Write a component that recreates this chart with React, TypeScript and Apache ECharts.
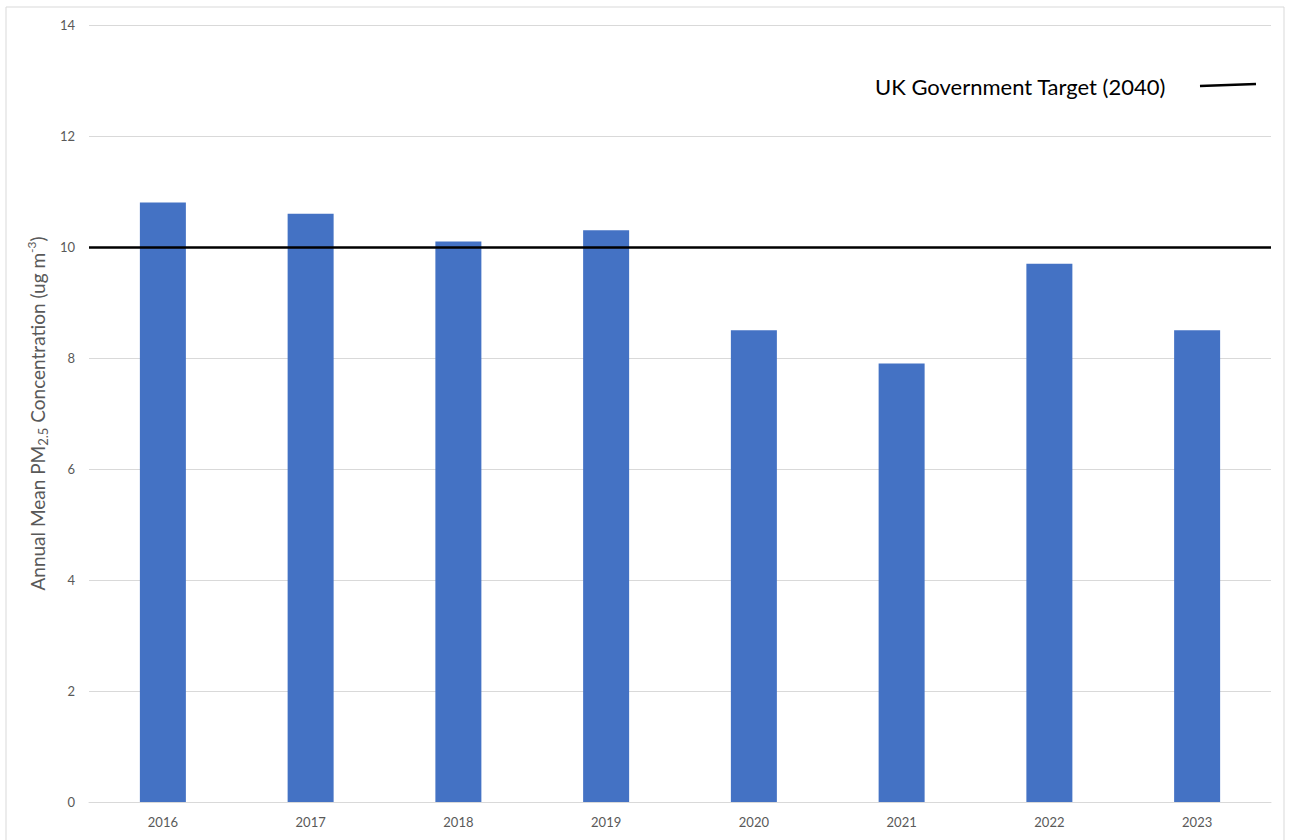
import React, { useEffect, useRef } from "react";
import * as echarts from "echarts";

const years = ["2016", "2017", "2018", "2019", "2020", "2021", "2022", "2023"];
const pm25 = [10.8, 10.6, 10.1, 10.3, 8.5, 7.9, 9.7, 8.5];
const targetValue = 10;
const targetLabel = "UK Government Target (2040)";

export default function App() {
  const ref = useRef<HTMLDivElement>(null);
  useEffect(() => {
    const chart = echarts.init(ref.current!, null, { renderer: "svg" });
    const font = "Lato, 'Open Sans', sans-serif";
    chart.setOption({
      animation: false,
      backgroundColor: "#ffffff",
      textStyle: { fontFamily: font },
      grid: { left: 89, right: 18, top: 25, bottom: 38, containLabel: false },
      graphic: [
        {
          type: "rect",
          shape: { x: 6, y: 7, width: 1278, height: 840 },
          style: { fill: "none", stroke: "#d9d9d9", lineWidth: 1 },
          silent: true,
        },
        {
          type: "text",
          x: 875,
          y: 86,
          style: {
            text: targetLabel,
            font: "22px " + font,
            fill: "#000000",
            verticalAlign: "middle",
          },
        },
        {
          type: "line",
          shape: { x1: 1200, y1: 86, x2: 1256, y2: 84 },
          style: { stroke: "#000000", lineWidth: 2.5 },
        },
      ],
      xAxis: {
        type: "category",
        data: years,
        axisLine: { lineStyle: { color: "#d9d9d9", width: 1 } },
        axisTick: { show: false },
        axisLabel: { color: "#595959", fontSize: 13, margin: 13 },
      },
      yAxis: {
        type: "value",
        min: 0,
        max: 14,
        interval: 2,
        axisLine: { show: false },
        axisTick: { show: false },
        axisLabel: { color: "#595959", fontSize: 13, margin: 14 },
        splitLine: { lineStyle: { color: "#d9d9d9", width: 1 } },
        name: "{n|Annual Mean PM}{sub|2.5}{n| Concentration (ug m}{sup|-3}{n|)}",
        nameLocation: "middle",
        nameGap: 36,
        nameRotate: 90,
        nameTextStyle: {
          rich: {
            n: { fontSize: 19, color: "#595959", fontFamily: font, lineHeight: 24 },
            sub: { fontSize: 13, color: "#595959", fontFamily: font, padding: [9, 0, 0, 0], lineHeight: 24, verticalAlign: "bottom" },
            sup: { fontSize: 12, color: "#595959", fontFamily: font, padding: [0, 0, 9, 0], lineHeight: 24, verticalAlign: "top" },
          },
        },
      },
      series: [
        {
          type: "bar",
          data: pm25,
          barWidth: 46,
          itemStyle: { color: "#4472c4" },
          markLine: {
            silent: true,
            symbol: "none",
            label: { show: false },
            lineStyle: { color: "#000000", width: 2.5, type: "solid" },
            data: [{ yAxis: targetValue }],
          },
        },
      ],
    });
    return () => chart.dispose();
  }, []);
  return (
    <div
      ref={ref}
      style={{ position: "absolute", left: 0, top: 0, width: 1289, height: 840 }}
    />
  );
}
